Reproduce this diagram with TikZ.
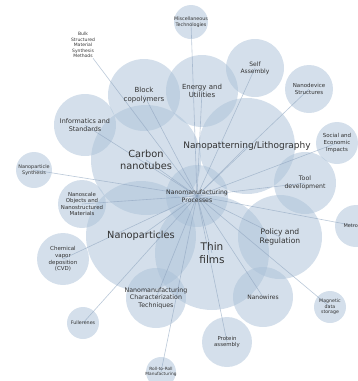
\documentclass[tikz,border=0pt]{standalone}
\usepackage{fontspec}
\setmainfont{DejaVu Sans}
\definecolor{bubblefill}{RGB}{170,192,215}
\definecolor{linkcol}{RGB}{140,163,190}
\definecolor{txtcol}{RGB}{50,50,50}
\tikzset{
  bubble/.style={circle, inner sep=0pt, fill=bubblefill, fill opacity=0.5, draw=none},
  link/.style={draw=linkcol, line width=0.6pt, draw opacity=0.6},
  lbl/.style={align=center, text=txtcol, inner sep=0.5pt}
}
\newcommand{\fs}[1]{\fontsize{#1}{1.2\dimexpr #1pt\relax}\selectfont}
\begin{document}
\begin{tikzpicture}[x=1pt,y=-1pt]
\useasboundingbox (0,0) rectangle (357,381);
% bubbles
\node[bubble, minimum size=62pt]  (proc)    at (197,196) {};
\node[bubble, minimum size=110pt] (carbon)  at (146,160) {};
\node[bubble, minimum size=110pt] (nanop)   at (141,236) {};
\node[bubble, minimum size=114pt] (thin)    at (212,253) {};
\node[bubble, minimum size=96pt]  (litho)   at (247,146) {};
\node[bubble, minimum size=72pt]  (block)   at (144,95)  {};
\node[bubble, minimum size=72pt]  (energy)  at (202,91)  {};
\node[bubble, minimum size=62pt]  (inform)  at (85,125)  {};
\node[bubble, minimum size=58pt]  (self)    at (255,68)  {};
\node[bubble, minimum size=34pt]  (misc)    at (191,22)  {};
\node[bubble, minimum size=48pt]  (nanodev) at (309,89)  {};
\node[bubble, minimum size=42pt]  (social)  at (337,143) {};
\node[bubble, minimum size=62pt]  (tool)    at (305,183) {};
\node[bubble, minimum size=84pt]  (policy)  at (280,237) {};
\node[bubble, minimum size=42pt]  (metro)   at (356,226) {};
\node[bubble, minimum size=36pt]  (nsynth)  at (34,170)  {};
\node[bubble, minimum size=48pt]  (nobj)    at (82,204)  {};
\node[bubble, minimum size=52pt]  (cvd)     at (63,259)  {};
\node[bubble, minimum size=60pt]  (charac)  at (156,298) {};
\node[bubble, minimum size=32pt]  (fuller)  at (83,323)  {};
\node[bubble, minimum size=30pt]  (roll)    at (161,372) {};
\node[bubble, minimum size=60pt]  (wires)   at (263,297) {};
\node[bubble, minimum size=50pt]  (protein) at (227,342) {};
\node[bubble, minimum size=32pt]  (magnet)  at (330,307) {};
% bulk label (no bubble)
\node[lbl, font=\fs{4.5}] (bulk) at (83,45) {Bulk\\Structured\\Material\\Synthesis\\Methods};
% links
\foreach \n in {carbon,nanop,thin,litho,block,energy,inform,self,misc,nanodev,social,tool,policy,metro,nsynth,nobj,cvd,charac,fuller,roll,wires,protein,magnet}
  \draw[link] (proc.center) -- (\n.center);
\draw[link] (proc.center) -- (bulk);
% labels
\node[lbl, font=\fs{6.2}] (proc-t)    at (proc)    {Nanomanufacturing\\Processes};
\node[lbl, font=\fs{9.8}] (carbon-t)  at (carbon)  {Carbon\\nanotubes};
\node[lbl, font=\fs{9.8}] (nanop-t)   at (nanop)   {Nanoparticles};
\node[lbl, font=\fs{10.5}] (thin-t)   at (thin)    {Thin\\films};
\node[lbl, font=\fs{9}]   (litho-t)   at (litho)   {Nanopatterning/Lithography};
\node[lbl, font=\fs{7}]   (block-t)   at (block)   {Block\\copolymers};
\node[lbl, font=\fs{7}]   (energy-t)  at (energy)  {Energy and\\Utilities};
\node[lbl, font=\fs{6.4}] (inform-t)  at (inform)  {Informatics and\\Standards};
\node[lbl, font=\fs{6}]   (self-t)    at (self)    {Self\\Assembly};
\node[lbl, font=\fs{4.8}] (misc-t)    at (misc)    {Miscellaneous\\Technologies};
\node[lbl, font=\fs{5.5}] (nanodev-t) at (nanodev) {Nanodevice\\Structures};
\node[lbl, font=\fs{5.5}] (social-t)  at (social)  {Social and\\Economic\\Impacts};
\node[lbl, font=\fs{6.2}] (tool-t)    at (tool)    {Tool\\development};
\node[lbl, font=\fs{7.6}] (policy-t)  at (policy)  {Policy and\\Regulation};
\node[lbl, font=\fs{5}]   (metro-t)   at (metro)   {Metrology};
\node[lbl, font=\fs{4.9}] (nsynth-t)  at (nsynth)  {Nanoparticle\\Synthesis};
\node[lbl, font=\fs{5.4}] (nobj-t)    at (nobj)    {Nanoscale\\Objects and\\Nanostructured\\Materials};
\node[lbl, font=\fs{5.5}] (cvd-t)     at (cvd)     {Chemical\\vapor\\deposition\\(CVD)};
\node[lbl, font=\fs{6.3}] (charac-t)  at (charac)  {Nanomanufacturing\\Characterization\\Techniques};
\node[lbl, font=\fs{4.8}] (fuller-t)  at (fuller)  {Fullerenes};
\node[lbl, font=\fs{4.3}] (roll-t)    at (roll)    {Roll-to-Roll\\Manufacturing};
\node[lbl, font=\fs{6}]   (wires-t)   at (wires)   {Nanowires};
\node[lbl, font=\fs{5.4}] (protein-t) at (protein) {Protein\\assembly};
\node[lbl, font=\fs{4.7}] (magnet-t)  at (magnet)  {Magnetic\\data\\storage};
\end{tikzpicture}
\end{document}
